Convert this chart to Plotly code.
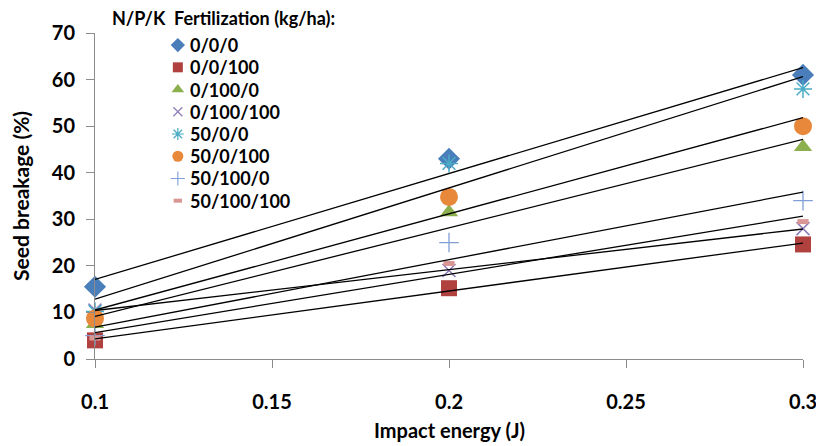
import numpy as np
import plotly.graph_objects as go

impact_energy = [0.1, 0.2, 0.3]
x_tick_vals = [0.1, 0.15, 0.2, 0.25, 0.3]
x_tick_text = ["0.1", "0.15", "0.2", "0.25", "0.3"]
y_tick_vals = [0, 10, 20, 30, 40, 50, 60, 70]

series_names = ["0/0/0", "0/0/100", "0/100/0", "0/100/100",
                "50/0/0", "50/0/100", "50/100/0", "50/100/100"]
s_0_0_0 = [15.5, 43, 61]
s_0_0_100 = [4, 15.2, 24.6]
s_0_100_0 = [7.5, 31.5, 45.5]
s_0_100_100 = [10.5, 19, 28]
s_50_0_0 = [10.2, 42, 58]
s_50_0_100 = [8.7, 34.8, 50]
s_50_100_0 = [5, 25, 34]
s_50_100_100 = [4.5, 20.5, 29.5]
series_values = [s_0_0_0, s_0_0_100, s_0_100_0, s_0_100_100,
                 s_50_0_0, s_50_0_100, s_50_100_0, s_50_100_100]

styles = [
    dict(symbol="diamond", size=17, color="#4A7EBB", line=dict(width=0)),
    dict(symbol="square", size=16, color="#B0413E", line=dict(width=0)),
    dict(symbol="triangle-up", size=16, color="#8DB04F", line=dict(width=0)),
    dict(symbol="x-thin-open", size=13, color="#8E7CB8", line=dict(width=1.5, color="#8E7CB8")),
    dict(symbol="asterisk-open", size=15, color="#4BACC6", line=dict(width=1.5, color="#4BACC6")),
    dict(symbol="circle", size=18, color="#E8883A", line=dict(width=0)),
    dict(symbol="cross-thin-open", size=14, color="#7F9FD6", line=dict(width=1.3, color="#7F9FD6")),
    dict(symbol="line-ew-open", size=8, color="#D99694", line=dict(width=5, color="#D99694")),
]
legend_sizes = [11, 10, 11, 9, 10, 11, 10, 6]
legend_lw = [0, 0, 0, 1.2, 1.2, 0, 1.1, 4]

fig = go.Figure()

for name, vals, st in zip(series_names, series_values, styles):
    fig.add_trace(go.Scatter(
        x=impact_energy, y=vals, mode="markers", name=name,
        marker=st, cliponaxis=False, showlegend=False,
    ))

x_arr = np.array(impact_energy)
for vals in series_values:
    k, b = np.polyfit(x_arr, np.array(vals), 1)
    fig.add_trace(go.Scatter(
        x=impact_energy, y=list(k * x_arr + b), mode="lines",
        line=dict(color="black", width=1.3), showlegend=False,
        hoverinfo="skip", cliponaxis=False,
    ))

# hand-built legend (markers on a hidden helper axis, one row per series)
for i, (name, st) in enumerate(zip(series_names, styles)):
    m = dict(st)
    m["size"] = legend_sizes[i]
    m["line"] = dict(st["line"])
    m["line"]["width"] = legend_lw[i]
    fig.add_trace(go.Scatter(
        x=[0], y=[i], mode="markers", marker=m, xaxis="x2", yaxis="y2",
        showlegend=False, hoverinfo="skip", cliponaxis=False,
    ))

legend_annotations = [
    dict(text=name, xref="paper", yref="y2", x=0.131, y=i, xanchor="left",
         yanchor="middle", showarrow=False,
         font=dict(size=18, family="Lato", weight="bold"))
    for i, name in enumerate(series_names)
]

axis_col = "#8C8C8C"
fig.update_layout(
    width=824, height=446,
    margin=dict(l=87, r=29, t=25, b=95),
    paper_bgcolor="white", plot_bgcolor="white",
    font=dict(family="Lato, 'Open Sans', sans-serif", color="black"),
    showlegend=False,
    xaxis=dict(
        range=[0.1, 0.3], tickvals=x_tick_vals, ticktext=x_tick_text,
        showgrid=False, zeroline=False, showline=True, linecolor=axis_col, linewidth=1,
        ticks="outside", ticklen=8, tickcolor=axis_col, automargin=False,
        tickfont=dict(size=20, family="Lato", weight="bold"),
        ticklabelstandoff=17,
    ),
    yaxis=dict(
        range=[0, 70], tickvals=y_tick_vals,
        showgrid=False, zeroline=False, showline=True, linecolor=axis_col, linewidth=1,
        ticks="outside", ticklen=8, tickcolor=axis_col, automargin=False,
        tickfont=dict(size=20, family="Lato", weight="bold"),
        ticklabelstandoff=7,
    ),
    xaxis2=dict(domain=[0.107, 0.127], range=[-1, 1], visible=False,
                anchor="y2", fixedrange=True),
    yaxis2=dict(domain=[0.4515, 0.997], range=[7.5, -0.5], visible=False,
                anchor="x2", fixedrange=True),
    annotations=[
        dict(text="Impact energy (J)", xref="paper", yref="paper", x=0.501, y=-0.219,
             xanchor="center", yanchor="middle", showarrow=False,
             font=dict(size=20, family="Lato", weight="bold")),
        dict(text="Seed breakage (%)", xref="paper", yref="paper", x=-0.106, y=0.5,
             xanchor="center", yanchor="middle", showarrow=False, textangle=-90,
             font=dict(size=21, family="Lato", weight="bold")),
        dict(text="N/P/K&nbsp;&nbsp;Fertilization (kg/ha):", xref="paper", yref="paper",
             x=0.021, y=1.046, xanchor="left", yanchor="middle", showarrow=False,
             font=dict(size=18, family="Lato", weight="bold")),
    ] + legend_annotations,
)

fig.write_html("out.html")
